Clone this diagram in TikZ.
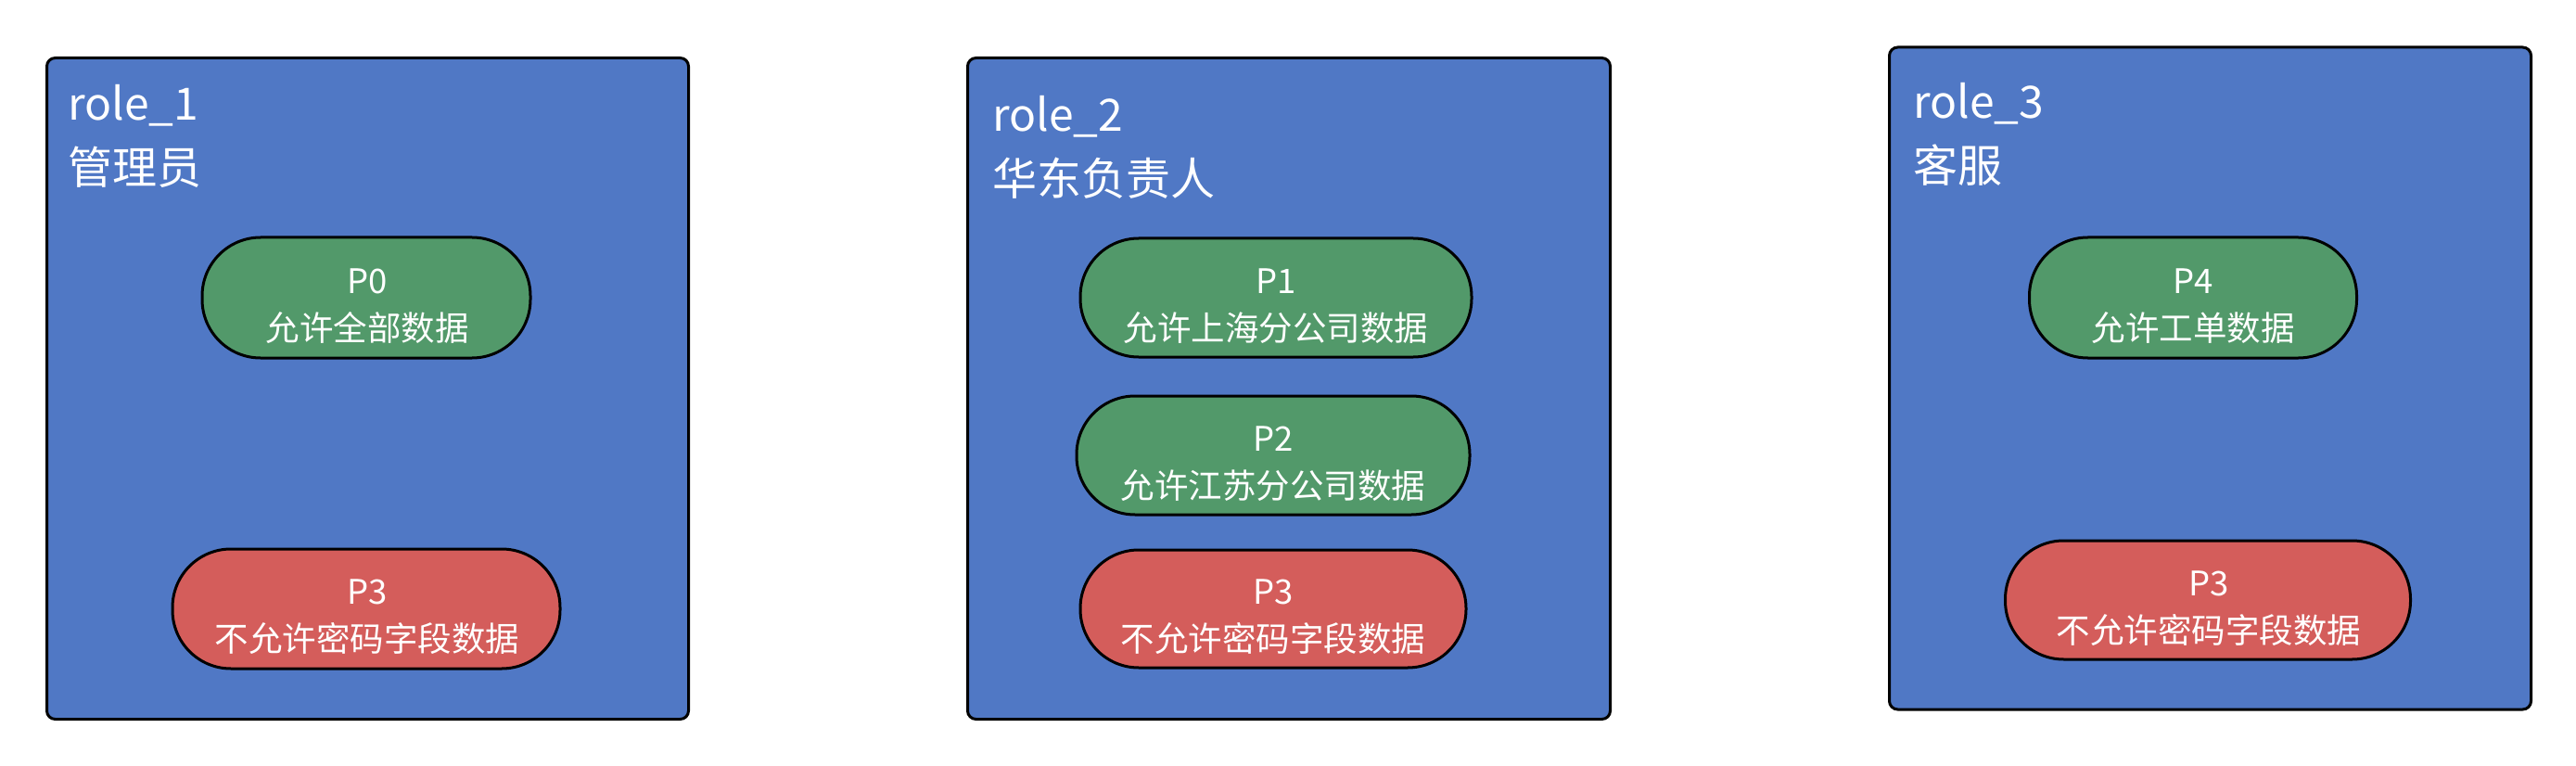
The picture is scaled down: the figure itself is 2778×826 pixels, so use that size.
\documentclass[tikz,border=0pt]{standalone}
\usepackage{fontspec}
\setmainfont{Noto Sans CJK SC}
\definecolor{rolebg}{HTML}{5078C5}
\definecolor{allowbg}{HTML}{52996A}
\definecolor{denybg}{HTML}{D45D5B}
\tikzset{
  rolebox/.style={draw=black, line width=3pt, fill=rolebg, rounded corners=9pt, anchor=north west, inner sep=0pt},
  pill/.style={draw=black, line width=3pt, rounded corners=63pt, inner sep=0pt},
  allow/.style={pill, fill=allowbg},
  deny/.style={pill, fill=denybg},
  pilltext/.style={text=white, align=center, inner sep=0pt, font=\fontsize{36.5pt}{51pt}\selectfont},
  titletext/.style={text=white, align=left, inner sep=0pt, anchor=north west, font=\fontsize{48pt}{69pt}\selectfont}
}
\begin{document}
\begin{tikzpicture}[x=1pt,y=-1pt]
\useasboundingbox[fill=white] (0,0) rectangle (2778,826);
% role boxes
\node[rolebox, minimum width=692pt, minimum height=713pt] (r1) at (49,61) {};
\node[rolebox, minimum width=693pt, minimum height=713pt] (r2) at (1042,61) {};
\node[rolebox, minimum width=692pt, minimum height=714pt] (r3) at (2036,49.5) {};
% titles
\node[titletext] (t1) at (73,91) {role\_1\\管理员};
\node[titletext] (t2) at (1070,103) {role\_2\\华东负责人};
\node[titletext] (t3) at (2063,89) {role\_3\\客服};
% permission pills
\node[allow, minimum width=354pt, minimum height=130pt] (p0) at (395,321) {};
\node[pilltext] (p0t) at (396,330) {P0\\允许全部数据};
\node[deny, minimum width=418pt, minimum height=129pt] (p3a) at (395,656.5) {};
\node[pilltext] (p3at) at (396,665) {P3\\不允许密码字段数据};
\node[allow, minimum width=422pt, minimum height=128pt] (p1) at (1376,321) {};
\node[pilltext] (p1t) at (1376,330) {P1\\允许上海分公司数据};
\node[allow, minimum width=424pt, minimum height=128pt] (p2) at (1373,491) {};
\node[pilltext] (p2t) at (1373,500) {P2\\允许江苏分公司数据};
\node[deny, minimum width=416pt, minimum height=127pt] (p3b) at (1373,656.5) {};
\node[pilltext] (p3bt) at (1373,665) {P3\\不允许密码字段数据};
\node[allow, minimum width=353pt, minimum height=130pt] (p4) at (2365,321) {};
\node[pilltext] (p4t) at (2365,330) {P4\\允许工单数据};
\node[deny, minimum width=437pt, minimum height=128pt] (p3c) at (2381,647) {};
\node[pilltext] (p3ct) at (2382,656) {P3\\不允许密码字段数据};
\end{tikzpicture}
\end{document}
